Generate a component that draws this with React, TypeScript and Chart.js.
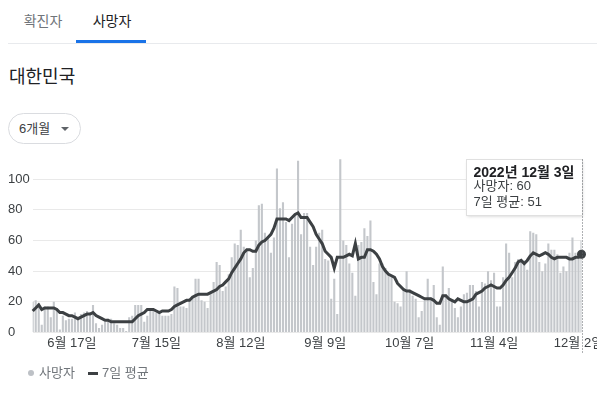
import React, { useEffect, useRef } from "react";
import { Chart, registerables } from "chart.js";

Chart.register(...registerables);

const FONT = '"Liberation Sans", Arial, "Noto Sans CJK KR", sans-serif';

// Daily deaths, 2022-06-04 .. 2022-12-03
const DEATHS = [
  20, 21, 19, 5, 17, 17, 10, 20, 16, 2, 11, 8, 9, 9, 13, 10, 12, 13, 14, 13, 18, 6, 3, 5, 7, 9, 9, 6, 5, 3,
  3, 1, 10, 11, 18, 18, 18, 7, 11, 14, 14, 13, 13, 11, 11, 11, 12, 30, 29, 17, 17, 16, 22, 24, 35, 35, 21, 20, 16, 26, 33,
  46, 44, 27, 30, 38, 49, 58, 57, 67, 56, 54, 36, 42, 60, 83, 84, 65, 63, 52, 62, 107, 81, 85, 72, 49, 71, 76, 112, 64, 78, 78,
  56, 44, 56, 65, 67, 48, 47, 22, 35, 12, 113, 60, 57, 45, 39, 24, 57, 59, 68, 63, 73, 33, 25, 45, 45, 42, 38, 37, 20, 19,
  17, 29, 40, 28, 24, 22, 10, 14, 21, 35, 23, 31, 10, 5, 43, 25, 29, 21, 16, 10, 17, 25, 26, 31, 31, 27, 17, 33, 32, 40, 34,
  39, 17, 17, 36, 58, 52, 36, 46, 48, 47, 47, 41, 66, 65, 64, 46, 40, 45, 58, 54, 54, 51, 39, 43, 40, 52, 62, 52, 52, 60,
];

// 7-day average
const AVG7 = [
  14, 16, 18, 15, 16, 16, 16, 16, 15, 13, 13, 12, 11, 11, 10, 9, 10, 11, 12, 12, 13, 11, 10, 9, 8, 8, 7, 7, 7, 7,
  7, 7, 7, 7, 9, 11, 12, 13, 15, 15, 15, 14, 13, 14, 14, 14, 15, 17, 18, 19, 20, 21, 21, 23, 24, 25, 25, 25, 25, 26, 27,
  28, 30, 31, 33, 35, 39, 42, 45, 48, 52, 54, 54, 53, 53, 57, 59, 60, 62, 64, 68, 74, 74, 74, 74, 73, 75, 77, 78, 75, 75, 75,
  72, 69, 64, 61, 58, 53, 51, 49, 42, 49, 49, 49, 50, 51, 50, 58, 48, 49, 49, 54, 54, 53, 51, 48, 43, 40, 38, 37, 36, 32,
  30, 28, 27, 27, 26, 25, 24, 23, 22, 22, 22, 21, 19, 19, 24, 24, 22, 21, 20, 22, 21, 20, 20, 21, 22, 25, 26, 27, 29, 30, 31,
  30, 29, 29, 31, 34, 36, 39, 42, 46, 47, 45, 47, 50, 52, 51, 50, 51, 52, 51, 49, 48, 49, 49, 49, 49, 48, 48, 49, 49, 51,
];

const START_YEAR = 2022;
const START_MONTH = 6;
const START_DAY = 4;

const CATEGORIES = DEATHS.map((_, i) => {
  const d = new Date(START_YEAR, START_MONTH - 1, START_DAY + i);
  return `${d.getMonth() + 1}월 ${d.getDate()}일`;
});

const X_TICK_LABELS = ["6월 17일", "7월 15일", "8월 12일", "9월 9일", "10월 7일", "11월 4일", "12월 2일"];
const Y_MAX = 120;
const Y_STEP = 20;
const Y_LABEL_MAX = 100;

const TOOLTIP_TITLE = "2022년 12월 3일";
const SERIES_BAR = "사망자";
const SERIES_LINE = "7일 평균";

const tooltipPlugin = {
  id: "fixedTooltip",
  afterDraw(chart: any) {
    const { ctx, chartArea, scales } = chart;
    const i = DEATHS.length - 1;
    const x = Math.round(scales.x.getPixelForValue(i)) + 0.5;
    const top = Math.round(chartArea.top + 10.5) + 0.5;
    const bottom = chartArea.bottom + 21.5;
    const l1 = `${SERIES_BAR}: ${DEATHS[i]}`;
    const l2 = `${SERIES_LINE}: ${AVG7[i]}`;
    ctx.save();
    ctx.font = `bold 14px ${FONT}`;
    const w0 = ctx.measureText(TOOLTIP_TITLE).width;
    ctx.font = `13px ${FONT}`;
    const w = Math.max(w0, ctx.measureText(l1).width, ctx.measureText(l2).width);
    const boxW = Math.round(w + 15);
    const boxH = 56;
    const left = x - boxW;
    ctx.shadowColor = "rgba(0,0,0,0.18)";
    ctx.shadowBlur = 3;
    ctx.shadowOffsetY = 1;
    ctx.fillStyle = "#ffffff";
    ctx.fillRect(left, top, boxW, boxH);
    ctx.shadowColor = "transparent";
    ctx.shadowBlur = 0;
    ctx.shadowOffsetY = 0;
    ctx.strokeStyle = "#e0e0e0";
    ctx.lineWidth = 1;
    ctx.strokeRect(left, top, boxW, boxH);
    // dotted guide
    ctx.strokeStyle = "#5f6368";
    ctx.setLineDash([1, 2]);
    ctx.beginPath();
    ctx.moveTo(x, top);
    ctx.lineTo(x, bottom);
    ctx.stroke();
    ctx.setLineDash([]);
    ctx.textBaseline = "middle";
    ctx.textAlign = "left";
    ctx.fillStyle = "#202124";
    ctx.font = `bold 14px ${FONT}`;
    ctx.fillText(TOOLTIP_TITLE, left + 7, top + 13.5);
    ctx.fillStyle = "#3c4043";
    ctx.font = `13px ${FONT}`;
    ctx.fillText(l1, left + 7, top + 27);
    ctx.fillText(l2, left + 7, top + 42.5);
    ctx.restore();
  },
};

export default function App() {
  const ref = useRef<HTMLCanvasElement | null>(null);

  useEffect(() => {
    if (!ref.current) return;
    const last = DEATHS.length - 1;
    const chart = new Chart(ref.current, {
      type: "bar",
      data: {
        labels: CATEGORIES,
        datasets: [
          {
            type: "line",
            label: SERIES_LINE,
            data: AVG7,
            borderColor: "#3c4043",
            backgroundColor: "#3c4043",
            borderWidth: 3,
            tension: 0,
            pointRadius: (c: any) => (c.dataIndex === last ? 4.5 : 0),
            pointHoverRadius: 0,
            pointBorderWidth: 0,
            clip: false as any,
            order: 0,
          } as any,
          {
            type: "bar",
            label: SERIES_BAR,
            data: DEATHS,
            backgroundColor: "#c4c7cb",
            barPercentage: 0.7,
            categoryPercentage: 1,
            order: 1,
          },
        ],
      },
      options: {
        animation: false,
        responsive: false,
        events: [],
        layout: { padding: { left: 8, right: 15.5, top: 8.5, bottom: 13.9 } },
        plugins: { legend: { display: false }, tooltip: { enabled: false } },
        scales: {
          x: {
            type: "category",
            offset: false,
            grid: { display: false, drawTicks: false },
            border: { display: false },
            ticks: {
              autoSkip: false,
              maxRotation: 0,
              minRotation: 0,
              padding: 3,
              color: "#3c4043",
              font: { family: FONT, size: 13 },
              callback: (_v: any, i: number) =>
                X_TICK_LABELS.includes(CATEGORIES[i]) ? CATEGORIES[i] : null,
            },
            afterFit: (s: any) => {
              s.height = 18.6;
              s.paddingLeft = 0;
              s.paddingRight = 0;
            },
          },
          y: {
            min: 0,
            max: Y_MAX,
            grid: { color: "#e9e9e9", drawTicks: false, lineWidth: 1 },
            border: { display: false },
            ticks: {
              stepSize: Y_STEP,
              padding: 0,
              crossAlign: "far",
              color: "#3c4043",
              font: { family: FONT, size: 13 },
              callback: (v: any) => (Number(v) <= Y_LABEL_MAX ? String(v) : null),
            },
            afterFit: (s: any) => {
              s.width = 24.7;
              s.paddingTop = 0;
              s.paddingBottom = 0;
            },
          },
        },
      } as any,
      plugins: [tooltipPlugin],
    });
    return () => chart.destroy();
  }, []);

  const abs = (s: React.CSSProperties): React.CSSProperties => ({ position: "absolute", ...s });

  return (
    <div
      style={{
        position: "fixed",
        left: 0,
        top: 0,
        width: 613,
        height: 395,
        background: "#fff",
        fontFamily: FONT,
        overflow: "hidden",
      }}
    >
      <div style={abs({ left: 8, top: 11, width: 70, height: 20, lineHeight: "20px", textAlign: "center", fontSize: 14, color: "#70757a" })}>
        확진자
      </div>
      <div style={abs({ left: 77, top: 11, width: 70, height: 20, lineHeight: "20px", textAlign: "center", fontSize: 14, color: "#202124" })}>
        사망자
      </div>
      <div style={abs({ left: 76, top: 40, width: 70, height: 3, background: "#1a73e8" })} />
      <div style={abs({ left: 8, top: 43, width: 589, height: 1, background: "#e8eaed" })} />
      <div style={abs({ left: 9, top: 65, height: 24, lineHeight: "24px", fontSize: 18, color: "#202124" })}>대한민국</div>
      <div
        style={abs({
          left: 8,
          top: 113,
          width: 73,
          height: 31,
          boxSizing: "border-box",
          border: "1px solid #dadce0",
          borderRadius: 16,
        })}
      >
        <div style={abs({ left: 10, top: 6, height: 18, lineHeight: "18px", fontSize: 13, color: "#3c4043" })}>6개월</div>
        <div
          style={abs({
            left: 52,
            top: 13,
            width: 0,
            height: 0,
            borderLeft: "4px solid transparent",
            borderRight: "4px solid transparent",
            borderTop: "4px solid #5f6368",
          })}
        />
      </div>
      <canvas ref={ref} width={597} height={225} style={abs({ left: 0, top: 140, width: 597, height: 225 })} />
      <div style={abs({ left: 28, top: 370, width: 6, height: 6, borderRadius: 3, background: "#bdc1c6" })} />
      <div style={abs({ left: 39, top: 364, height: 18, lineHeight: "18px", fontSize: 13, color: "#70757a" })}>{SERIES_BAR}</div>
      <div style={abs({ left: 88, top: 372, width: 10, height: 3, background: "#3c4043" })} />
      <div style={abs({ left: 102, top: 364, height: 18, lineHeight: "18px", fontSize: 13, color: "#70757a" })}>{SERIES_LINE}</div>
    </div>
  );
}
